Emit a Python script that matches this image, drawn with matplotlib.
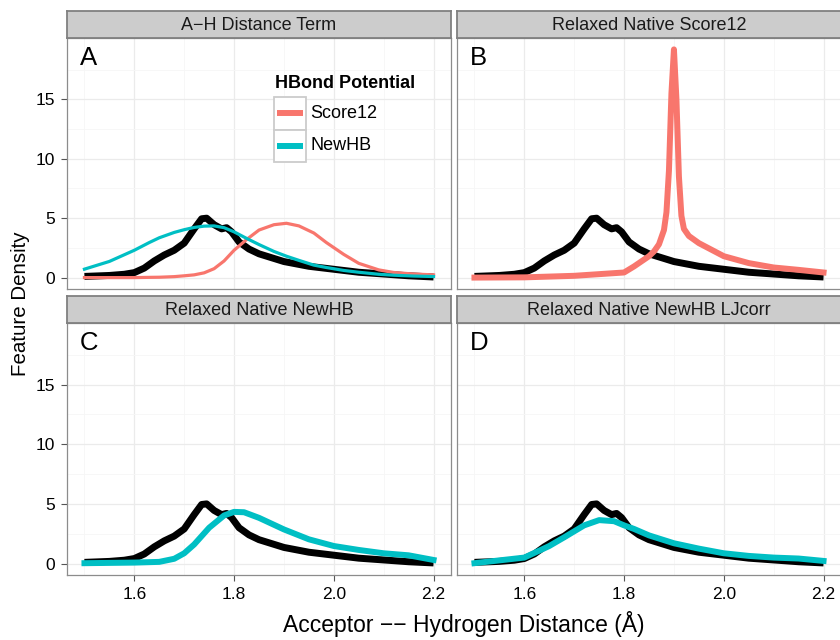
import numpy as np
import matplotlib
matplotlib.use('Agg')
import matplotlib.pyplot as plt
from matplotlib.patches import Rectangle
from matplotlib.lines import Line2D

plt.rcParams['font.family'] = ['Liberation Sans', 'DejaVu Sans']

# Data
native_x = [1.50, 1.55, 1.58, 1.60, 1.62, 1.64, 1.66, 1.68, 1.70, 1.72, 1.735, 1.745, 1.76,
            1.775, 1.785, 1.795, 1.81, 1.83, 1.85, 1.90, 1.95, 2.00, 2.05, 2.10, 2.15, 2.20]
native_y = [0.1, 0.18, 0.28, 0.42, 0.8, 1.4, 1.9, 2.3, 2.9, 4.1, 4.95, 5.0, 4.45,
            4.1, 4.2, 3.85, 3.0, 2.4, 2.0, 1.35, 0.95, 0.7, 0.45, 0.3, 0.15, 0.05]

# potential curves (panel A)
pot_x = [1.50, 1.55, 1.60, 1.63, 1.65, 1.68, 1.70, 1.72, 1.74, 1.76, 1.78, 1.80, 1.825,
         1.85, 1.88, 1.905, 1.93, 1.96, 1.985, 2.02, 2.05, 2.09, 2.12, 2.16, 2.20]
score12_pot = [0.0, 0.0, 0.0, 0.02, 0.03, 0.08, 0.15, 0.23, 0.4, 0.75, 1.4, 2.3, 3.2,
               4.0, 4.45, 4.57, 4.35, 3.75, 2.95, 1.95, 1.2, 0.65, 0.43, 0.3, 0.23]
newhb_pot = [0.71, 1.36, 2.3, 2.95, 3.35, 3.8, 4.03, 4.22, 4.33, 4.35, 4.2, 3.85, 3.3,
             2.78, 2.2, 1.8, 1.45, 1.05, 0.85, 0.6, 0.45, 0.28, 0.2, 0.13, 0.09]

# relaxed native, Score12 (panel B)
s12_x = [1.50, 1.60, 1.70, 1.80, 1.82, 1.85, 1.86, 1.87, 1.88, 1.885, 1.89, 1.895, 1.90,
         1.905, 1.91, 1.915, 1.92, 1.93, 1.95, 2.00, 2.05, 2.10, 2.15, 2.20]
s12_y = [0.0, 0.02, 0.15, 0.43, 0.94, 1.8, 2.2, 2.8, 4.0, 5.5, 9.0, 15.5, 19.2,
         15.0, 8.5, 5.2, 4.1, 3.5, 2.9, 1.8, 1.22, 0.85, 0.65, 0.43]

# relaxed native, NewHB (panel C) and NewHB LJcorr (panel D)
relax_x = [1.50, 1.60, 1.65, 1.68, 1.70, 1.72, 1.75, 1.78, 1.80, 1.82, 1.85, 1.90,
           1.95, 2.00, 2.05, 2.10, 2.15, 2.20]
newhb_y = [0.03, 0.08, 0.14, 0.4, 0.86, 1.6, 3.0, 4.03, 4.33, 4.3, 3.83, 2.86,
           2.03, 1.47, 1.14, 0.86, 0.69, 0.3]
ljcorr_y = [0.03, 0.5, 1.47, 2.2, 2.7, 3.2, 3.64, 3.55, 3.2, 2.9, 2.36, 1.7,
            1.25, 0.86, 0.64, 0.5, 0.42, 0.22]

titles = ['A\u2212H Distance Term', 'Relaxed Native Score12',
          'Relaxed Native NewHB', 'Relaxed Native NewHB LJcorr']
letters = ['A', 'B', 'C', 'D']
legend_labels = ['Score12', 'NewHB']
RED = '#F8766D'
CYAN = '#00BFC4'

W, H = 840, 640
fig = plt.figure(figsize=(8.4, 6.4), dpi=100)


def fx(px):
    return px / W


def fy(py):
    return 1 - py / H


# panel boxes in pixels: (left, top, right, bottom)
boxes = [(67, 38, 451, 289), (457, 38, 841, 289),
         (67, 323, 451, 575), (457, 323, 841, 575)]
strip_h = 27

axes = []
for i, (l, t, r, b) in enumerate(boxes):
    ax = fig.add_axes([fx(l), fy(b), (r - l) / W, (b - t) / H])
    ax.set_xlim(1.465, 2.235)
    ax.set_ylim(-0.96, 20.16)
    ax.set_xticks([1.6, 1.8, 2.0, 2.2])
    ax.set_xticks([1.5, 1.7, 1.9, 2.1], minor=True)
    ax.set_yticks([0, 5, 10, 15])
    ax.set_yticks([2.5, 7.5, 12.5, 17.5], minor=True)
    ax.grid(which='major', color='#EBEBEB', lw=0.9)
    ax.grid(which='minor', color='#F6F6F6', lw=0.6)
    ax.set_axisbelow(True)
    for s in ax.spines.values():
        s.set_color('#8C8C8C')
        s.set_linewidth(0.9)
    ax.tick_params(which='minor', length=0)
    ax.tick_params(which='major', length=4.5, width=0.8, color='#555555',
                   labelsize=12.5, labelcolor='black', pad=4)
    if i in (0, 2):
        ax.set_yticklabels(['0', '5', '10', '15'])
    else:
        ax.tick_params(axis='y', which='major', length=0, labelleft=False)
    if i in (2, 3):
        ax.set_xticklabels(['1.6', '1.8', '2.0', '2.2'])
    else:
        ax.tick_params(axis='x', which='major', length=0, labelbottom=False)
    ax.text(0.034, 0.968, letters[i], transform=ax.transAxes, fontsize=18.5,
            va='top', ha='left')

    # facet strip
    sax = fig.add_axes([fx(l), fy(t), (r - l) / W, strip_h / H])
    sax.set_facecolor('#CCCCCC')
    sax.set_xticks([])
    sax.set_yticks([])
    for s in sax.spines.values():
        s.set_color('#808080')
        s.set_linewidth(1.3)
    sax.text(0.5, 0.47, titles[i], transform=sax.transAxes, ha='center',
             va='center', fontsize=13, color='#1A1A1A')
    axes.append(ax)

ax1, ax2, ax3, ax4 = axes
for ax in axes:
    ax.plot(native_x, native_y, color='black', lw=5.0, solid_joinstyle='round',
            solid_capstyle='butt', zorder=3)

ax1.plot(pot_x, score12_pot, color=RED, lw=2.3, zorder=4)
ax1.plot(pot_x, newhb_pot, color=CYAN, lw=2.3, zorder=5)
ax2.plot(s12_x, s12_y, color=RED, lw=4.3, solid_joinstyle='round', zorder=4)
ax3.plot(relax_x, newhb_y, color=CYAN, lw=4.3, solid_joinstyle='round', zorder=4)
ax4.plot(relax_x, ljcorr_y, color=CYAN, lw=4.3, solid_joinstyle='round', zorder=4)

# legend inside panel A, drawn ggplot style with key boxes
fig.text(fx(275), fy(83), 'HBond Potential', fontsize=13, fontweight='bold',
         ha='left', va='center')
key_tops = [97, 129.5]
for top, lab, col in zip(key_tops, legend_labels, [RED, CYAN]):
    fig.patches.append(Rectangle((fx(273.5), fy(top + 32.5)), 32.5 / W, 32.5 / H,
                                 transform=fig.transFigure, facecolor='white',
                                 edgecolor='#CCCCCC', lw=1.3, zorder=6))
    yc = top + 16.25
    fig.lines.append(Line2D([fx(277), fx(303)], [fy(yc), fy(yc)],
                            transform=fig.transFigure, color=col, lw=4.3,
                            solid_capstyle='butt', zorder=7))
    fig.text(fx(310.5), fy(yc), lab, fontsize=13, ha='left', va='center')

fig.text(fx(464), fy(624), 'Acceptor \u2212\u2212 Hydrogen Distance (\u00c5)',
         ha='center', va='center', fontsize=16.5)
fig.text(fx(21), fy(304), 'Feature Density', rotation=90,
         ha='center', va='center', fontsize=14.8)

fig.savefig('out.png', dpi=100)
